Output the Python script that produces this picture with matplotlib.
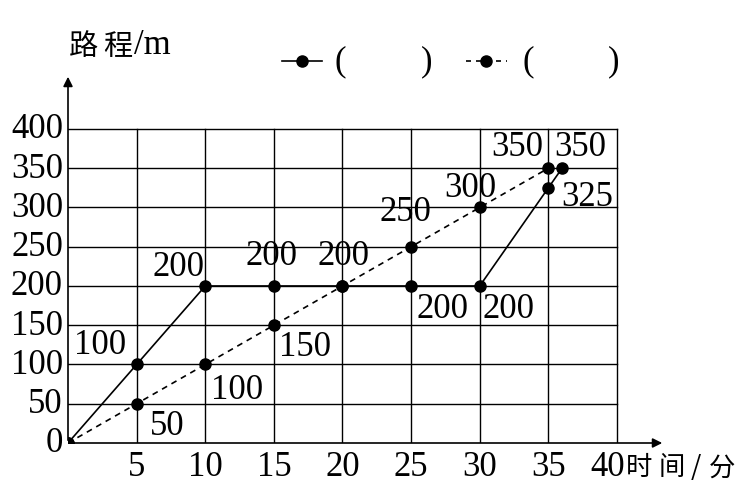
import matplotlib
matplotlib.use("Agg")
import matplotlib.pyplot as plt

# ---- data ----
x_ticks = [5, 10, 15, 20, 25, 30, 35, 40]
y_ticks = [0, 50, 100, 150, 200, 250, 300, 350, 400]
solid_x = [0, 5, 10, 15, 20, 25, 30, 35, 36]
solid_y = [0, 100, 200, 200, 200, 200, 200, 325, 350]
dash_x = [0, 5, 10, 15, 20, 25, 30, 35]
dash_y = [0, 50, 100, 150, 200, 250, 300, 350]
# labelled points (x, y) and offset in pixels
label_pts = [(5, 100), (5, 50), (10, 200), (10, 100), (15, 200), (15, 150),
             (20, 200), (25, 250), (25, 200), (30, 300), (30, 200),
             (35, 350), (36, 350), (35, 325)]
label_off = [(-37, 20), (31, -22), (-27, 19), (32, -25), (-2, 30), (31, -21),
             (1, 30), (-6, 35), (31, -23), (-9, 20), (29, -23),
             (-31, 22), (18, 22), (39, -9)]
y_title = "路程"
y_unit = "/m"
x_title = "时间/分"

serif = "Liberation Serif"
cjk = ["Noto Sans CJK SC", "DejaVu Sans"]
fs = 25

fig = plt.figure(figsize=(7.43, 4.85), dpi=100)
ax = fig.add_axes([68/743, 41/485, (665-68)/743, (444-75)/485])
ax.set_xlim(0, 43.5)
ax.set_ylim(0, 470)
ax.axis("off")

lw_grid = 1.0
for xv in x_ticks:
    ax.plot([xv, xv], [0, 400], color="black", lw=lw_grid, zorder=1)
for yv in y_ticks[1:]:
    ax.plot([0, 40], [yv, yv], color="black", lw=lw_grid, zorder=1)

# axes with arrows
ax.annotate("", xy=(43.5, 0), xytext=(0, 0),
            arrowprops=dict(arrowstyle="-|>", color="black", lw=1.2,
                            mutation_scale=14), annotation_clip=False)
ax.annotate("", xy=(0, 470), xytext=(0, 0),
            arrowprops=dict(arrowstyle="-|>", color="black", lw=1.2,
                            mutation_scale=14), annotation_clip=False)

# series
ax.plot(solid_x, solid_y, color="black", lw=1.2, marker="o", ms=8, zorder=3)
ax.plot(dash_x, dash_y, color="black", lw=1.2, ls=(0, (3.5, 3)), marker="o",
        ms=8, zorder=3)

# tick labels
for xv in x_ticks:
    dx = -9 if xv == x_ticks[-1] else 0
    ax.annotate(str(xv), (xv, 0), xytext=(dx, -24), textcoords="offset pixels",
                ha="center", va="center", fontsize=fs, family=serif,
                annotation_clip=False)
for yv in y_ticks:
    ax.annotate(str(yv), (0, yv), xytext=(-5, 0), textcoords="offset pixels",
                ha="right", va="center", fontsize=fs, family=serif,
                annotation_clip=False)

# point labels
for (px, py), (dx, dy) in zip(label_pts, label_off):
    ax.annotate(str(py), (px, py), xytext=(dx, dy), textcoords="offset pixels",
                ha="center", va="center", fontsize=fs, family=serif,
                annotation_clip=False)

# axis titles
fig.text(69/743, 1-47/485, y_title[0], fontsize=21, family=cjk, ha="left", va="center")
fig.text(103/743, 1-47/485, y_title[1], fontsize=21, family=cjk, ha="left", va="center")
fig.text(134/743, 1-45/485, y_unit, fontsize=fs, family=serif, ha="left", va="center")
x_char_pos = [639, 672, 696, 722]
for ch, xp in zip(x_title, x_char_pos):
    fig.text(xp/743, 1-468/485, ch, fontsize=19, family=cjk, ha="center", va="center")

# legend
ly = 1-62/485
fig.add_artist(plt.Line2D([282/743, 302/743, 322/743], [ly, ly, ly], color="black",
                          lw=1.2, marker="o", ms=8, markevery=[1],
                          transform=fig.transFigure))
fig.add_artist(plt.Line2D([466/743, 486/743, 507/743], [ly, ly, ly], color="black",
                          lw=1.2, ls=(0, (3, 3)), marker="o", ms=8, markevery=[1],
                          transform=fig.transFigure))
for xp in (340, 528):
    fig.text(xp/743, ly, "(", fontsize=fs, family=serif, ha="center", va="center")
for xp in (427, 614):
    fig.text(xp/743, ly, ")", fontsize=fs, family=serif, ha="center", va="center")

fig.savefig("out.png", dpi=100)
